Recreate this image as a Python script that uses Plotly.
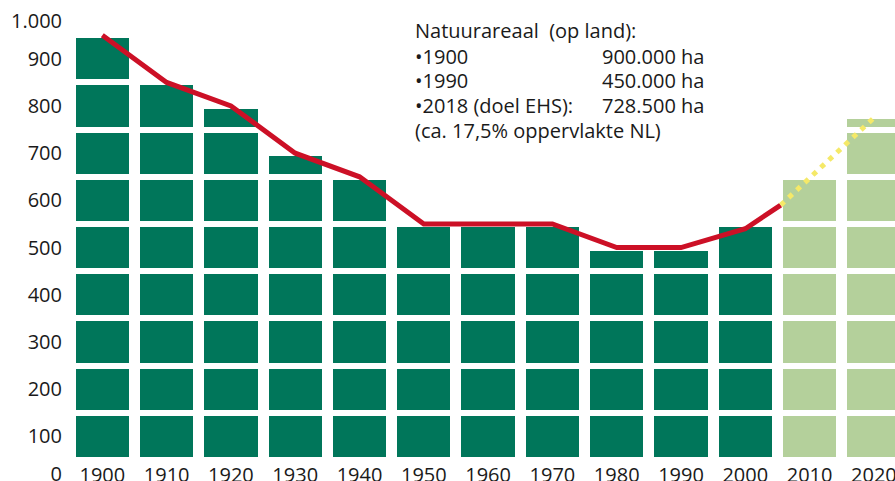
import plotly.graph_objects as go

# ---- data ----
years = [1900, 1910, 1920, 1930, 1940, 1950, 1960, 1970, 1980, 1990, 2000, 2010, 2020]
area_kha = [900, 800, 750, 650, 600, 500, 500, 500, 450, 450, 500, 600, 728.5]
is_projection = [False] * 11 + [True, True]

trend_years = [1900, 1910, 1920, 1930, 1940, 1950, 1960, 1970, 1980, 1990, 2000, 2005.5]
trend_values = [900, 800, 750, 650, 600, 500, 500, 500, 450, 450, 490, 540]

target_years = [2005.5, 2020]
target_values = [540, 725]

ytick_labels = ["0", "100", "200", "300", "400", "500", "600", "700", "800", "900", "1.000"]
xtick_labels = [str(y) for y in years]

note_left = ["Natuurareaal\u00a0 (op land):", "\u20221900", "\u20221990", "\u20222018 (doel EHS):",
             "(ca. 17,5% oppervlakte NL)"]
note_right = ["900.000 ha", "450.000 ha", "728.500 ha"]

# ---- styling ----
DARK = "#00765A"
LIGHT = "#B4D09B"
RED = "#CC1026"
YELLOW = "#F5E968"
FONT = "Open Sans"
TXT = "#1a1a1a"
BLOCK = 100  # each block in the bars represents 100 (x 1000 ha)

bar_colors = [LIGHT if p else DARK for p in is_projection]

fig = go.Figure()

n_levels = int(max(area_kha) // BLOCK) + 1
for k in range(n_levels):
    seg = []
    for v in area_kha:
        part = min(max(v - k * BLOCK, 0), BLOCK)
        seg.append(part if part > 0 else None)
    fig.add_trace(go.Bar(
        x=years, y=seg,
        marker=dict(color=bar_colors, line=dict(color="white", width=6)),
        showlegend=False, hoverinfo="skip",
    ))

fig.add_trace(go.Scatter(
    x=trend_years, y=trend_values, mode="lines",
    line=dict(color=RED, width=5), showlegend=False,
))
fig.add_trace(go.Scatter(
    x=target_years, y=target_values, mode="lines",
    line=dict(color=YELLOW, width=5, dash="5px,6px"), showlegend=False,
))

W, H = 895, 481
L = 66

def py(px):
    return 1 - px / H

annotations = []
left_rows = [30, 56.5, 81, 105.5, 130.5]
for txt, yc in zip(note_left, left_rows):
    annotations.append(dict(text=txt, xref="paper", yref="paper",
                            x=(413 - L) / (W - L), y=py(yc),
                            xanchor="left", yanchor="middle", showarrow=False,
                            font=dict(family=FONT, size=20, color=TXT)))
for txt, yc in zip(note_right, left_rows[1:4]):
    annotations.append(dict(text=txt, xref="paper", yref="paper",
                            x=(600 - L) / (W - L), y=py(yc),
                            xanchor="left", yanchor="middle", showarrow=False,
                            font=dict(family=FONT, size=20, color=TXT)))

fig.update_layout(
    width=W, height=H,
    margin=dict(l=L, r=0, t=0, b=0, autoexpand=False),
    paper_bgcolor="white", plot_bgcolor="white",
    barmode="stack", bargap=0.078,
    font=dict(family=FONT, size=20, color=TXT),
    annotations=annotations,
    xaxis=dict(
        range=[1894.35, 2023.28],
        tickvals=years, ticktext=xtick_labels,
        showgrid=False, zeroline=False, showline=False, ticks="",
        anchor="free", position=(H - 460) / H,
        ticklabelstandoff=1, automargin=False, ticklabeloverflow="allow",
        tickfont=dict(family=FONT, size=20, color=TXT),
    ),
    yaxis=dict(
        range=[-44.5, 974.6],
        tickvals=[-30, 50, 150, 250, 350, 450, 550, 650, 750, 850, 930],
        ticktext=ytick_labels,
        showgrid=False, zeroline=False, showline=False, ticks="",
        ticklabelstandoff=3, automargin=False, ticklabeloverflow="allow",
        tickfont=dict(family=FONT, size=20, color=TXT),
    ),
)

fig.write_html(
    "out.html",
    config={"displayModeBar": False},
    post_script="document.body.style.margin='0';document.body.style.overflow='hidden';",
)
